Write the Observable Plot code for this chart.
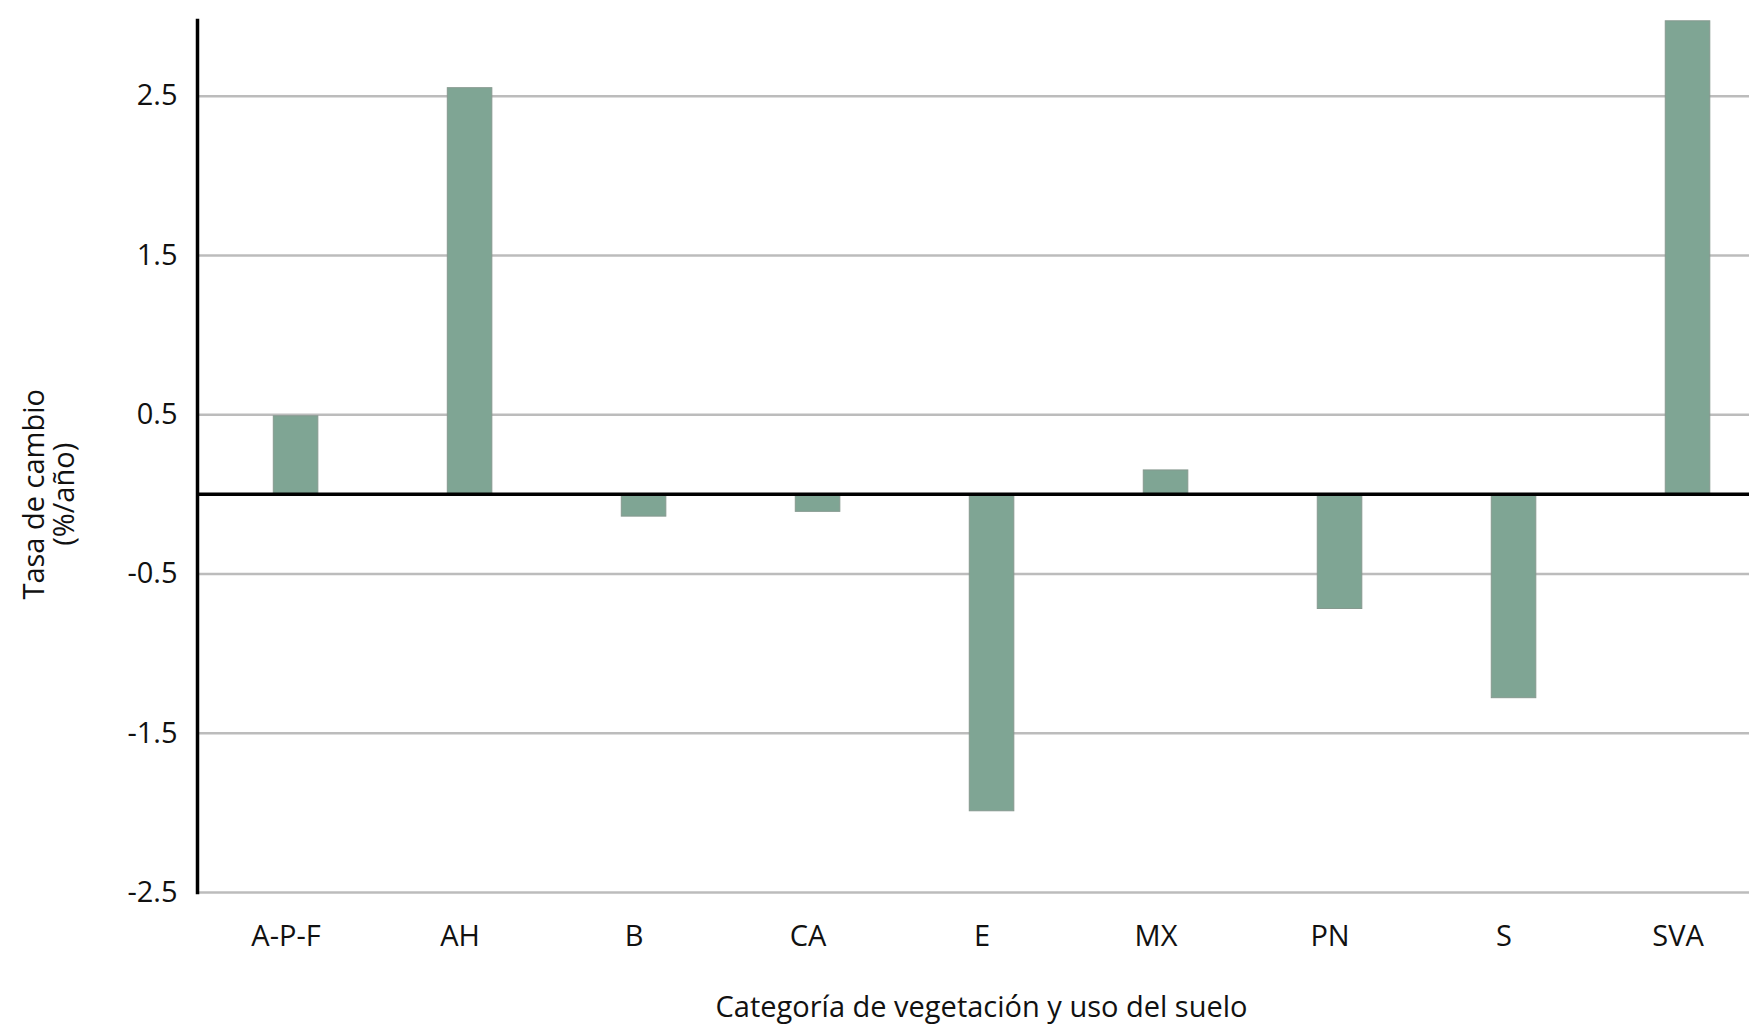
<!DOCTYPE html>
<html>
<head>
<meta charset="utf-8">
<script src="https://cdn.jsdelivr.net/npm/d3@7"></script>
<script src="https://cdn.jsdelivr.net/npm/@observablehq/plot@0.6"></script>
<style>
  html, body { margin: 0; padding: 0; background: #ffffff; }
  #chart svg { display: block; }
</style>
</head>
<body>
<div id="chart"></div>
<script>
const categories = ["A-P-F", "AH", "B", "CA", "E", "MX", "PN", "S", "SVA"];
const values = [0.49, 2.55, -0.14, -0.11, -1.99, 0.15, -0.72, -1.28, 2.97];
const yTicks = [-2.5, -1.5, -0.5, 0.5, 1.5, 2.5];
const xTitle = "Categoría de vegetación y uso del suelo";
const yTitle = "Tasa de cambio\n(%/año)";

const data = categories.map((c, i) => ({cat: c, value: values[i]}));

const chart = Plot.plot({
  width: 1749,
  height: 1026,
  marginLeft: 197,
  marginRight: 0,
  marginTop: 20,
  marginBottom: 134,
  style: {fontFamily: "'Open Sans', 'Noto Sans', sans-serif", fontSize: "29px", color: "#111", background: "#ffffff"},
  x: {domain: categories, range: [273.3, 1709.8], paddingInner: 0.744, paddingOuter: 0, round: false, label: null},
  y: {domain: [-2.5, 2.975], label: null},
  marks: [
    Plot.gridY(yTicks, {stroke: "#bcbcbc", strokeOpacity: 1, strokeWidth: 2.5}),
    Plot.barY(data, {x: "cat", y: "value", fill: "#7fa594", stroke: "#86998f", strokeWidth: 1}),
    Plot.ruleY([0], {stroke: "#000", strokeWidth: 3.5}),
    Plot.frame({anchor: "left", stroke: "#000", strokeWidth: 3.5}),
    Plot.axisY(yTicks, {tickSize: 0, tickPadding: 20, tickFormat: d => String(d), label: null, fontSize: 29}),
    Plot.axisX({tickSize: 0, tickPadding: 33, dx: -10, label: null, fontSize: 29}),
    Plot.text([yTitle], {y: 0, frameAnchor: "left", dx: -148.5, rotate: -90, lineHeight: 1.05, textAnchor: "middle", lineAnchor: "middle", fontSize: 29, fill: "#111"}),
    Plot.text([xTitle], {frameAnchor: "bottom", dx: 8, dy: 115, lineAnchor: "middle", textAnchor: "middle", fontSize: 29, fill: "#111"})
  ]
});
document.getElementById("chart").appendChild(chart);
</script>
</body>
</html>
